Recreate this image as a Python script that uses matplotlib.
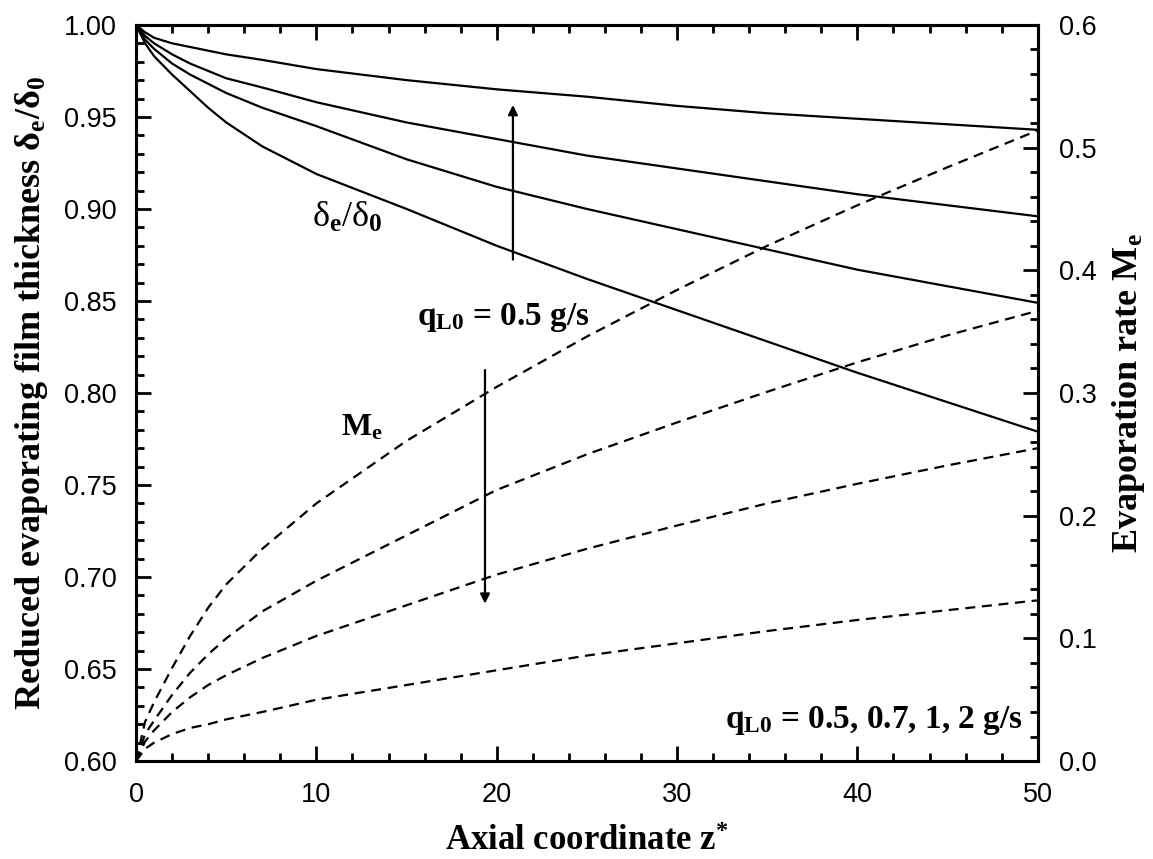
import numpy as np
import matplotlib
matplotlib.use("Agg")
import matplotlib.pyplot as plt
from matplotlib.ticker import MultipleLocator, FormatStrFormatter

plt.rcParams['mathtext.fontset'] = 'custom'
plt.rcParams['mathtext.rm'] = 'Liberation Serif:bold'
plt.rcParams['mathtext.it'] = 'Liberation Serif:bold'
plt.rcParams['mathtext.bf'] = 'Liberation Serif:bold'

# Axial coordinate z*
z = [0, 0.5, 1, 2, 3, 4, 5, 7, 10, 15, 20, 25, 30, 35, 40, 45, 50]

# Reduced film thickness delta_e/delta_0 (solid, left axis)
delta_a = [1.0, 0.996, 0.993, 0.990, 0.988, 0.986, 0.984, 0.981, 0.976, 0.970, 0.965, 0.961, 0.956, 0.952, 0.949, 0.946, 0.943]
delta_b = [1.0, 0.994, 0.990, 0.984, 0.979, 0.975, 0.971, 0.966, 0.958, 0.947, 0.938, 0.929, 0.922, 0.915, 0.908, 0.902, 0.896]
delta_c = [1.0, 0.992, 0.987, 0.979, 0.973, 0.968, 0.963, 0.955, 0.945, 0.927, 0.912, 0.900, 0.889, 0.878, 0.867, 0.858, 0.849]
delta_d = [1.0, 0.990, 0.983, 0.973, 0.964, 0.955, 0.947, 0.934, 0.919, 0.900, 0.880, 0.862, 0.845, 0.828, 0.811, 0.795, 0.779]

# Evaporation rate M_e (dashed, right axis)
me_a = [0.0, 0.032, 0.048, 0.076, 0.102, 0.125, 0.144, 0.173, 0.210, 0.261, 0.305, 0.346, 0.384, 0.420, 0.453, 0.484, 0.514]
me_b = [0.0, 0.022, 0.033, 0.054, 0.072, 0.087, 0.100, 0.122, 0.147, 0.184, 0.221, 0.250, 0.276, 0.301, 0.325, 0.347, 0.367]
me_c = [0.0, 0.016, 0.025, 0.040, 0.052, 0.062, 0.070, 0.084, 0.102, 0.127, 0.152, 0.173, 0.192, 0.210, 0.226, 0.241, 0.255]
me_d = [0.0, 0.010, 0.015, 0.022, 0.027, 0.030, 0.034, 0.040, 0.050, 0.062, 0.074, 0.086, 0.096, 0.106, 0.115, 0.123, 0.131]

fig = plt.figure(figsize=(11.53, 8.59), dpi=100)
ax = fig.add_axes([0.118, 0.114, 0.782, 0.857])
ax2 = ax.twinx()

for d in [delta_a, delta_b, delta_c, delta_d]:
    ax.plot(z, d, color='black', lw=1.6)
for m in [me_a, me_b, me_c, me_d]:
    ax2.plot(z, m, color='black', lw=1.6, linestyle=(0, (4.5, 3)))

ax.set_xlim(0, 50)
ax.set_ylim(0.6, 1.0)
ax2.set_ylim(0.0, 0.6)

ax.xaxis.set_major_locator(MultipleLocator(10))
ax.xaxis.set_minor_locator(MultipleLocator(2))
ax.yaxis.set_major_locator(MultipleLocator(0.05))
ax.yaxis.set_minor_locator(MultipleLocator(0.01))
ax2.yaxis.set_major_locator(MultipleLocator(0.1))
ax2.yaxis.set_minor_locator(MultipleLocator(0.02))
ax.yaxis.set_major_formatter(FormatStrFormatter('%.2f'))
ax2.yaxis.set_major_formatter(FormatStrFormatter('%.1f'))

ax.tick_params(axis='both', which='major', direction='in', length=11, width=2,
               labelsize=19.5)
ax.tick_params(axis='both', which='minor', direction='in', length=6, width=2)
ax.tick_params(axis='x', which='major', pad=15)
ax.tick_params(axis='y', which='major', pad=14)
ax.tick_params(axis='x', which='both', top=True)
ax.tick_params(axis='y', which='both', right=False)
ax2.tick_params(axis='y', which='major', direction='in', length=11, width=2,
                labelsize=19.5, pad=15)
ax2.tick_params(axis='y', which='minor', direction='in', length=6, width=2)
for lbl in ax.get_xticklabels() + ax.get_yticklabels() + ax2.get_yticklabels():
    lbl.set_fontfamily('Liberation Sans')

for a in (ax, ax2):
    for s in a.spines.values():
        s.set_linewidth(2.2)

label_font = dict(family='Liberation Serif', weight='bold')
ax.set_xlabel(r'Axial coordinate z$^{*}$', labelpad=12, size=25, **label_font)
ax.set_ylabel(r'Reduced evaporating film thickness $\mathrm{δ}_\mathrm{e}/\mathrm{δ}_\mathrm{0}$',
              labelpad=10, size=26, **label_font)
ax2.set_ylabel(r'Evaporation rate M$_\mathrm{e}$', labelpad=10, size=26, **label_font)

# curve annotations
ax.text(11.7, 0.895, r'δ$_\mathrm{e}$/δ$_\mathrm{0}$', family='Liberation Serif',
        size=26, ha='center', va='center')
ax.text(12.5, 0.781, r'M$_\mathrm{e}$', family='Liberation Serif', weight='bold',
        size=23, ha='center', va='center')
ax.text(15.6, 0.841, r'q$_\mathrm{L0}$ = 0.5 g/s', family='Liberation Serif',
        weight='bold', size=24, ha='left', va='center')
ax.text(49.2, 0.622, r'q$_\mathrm{L0}$ = 0.5, 0.7, 1, 2 g/s', family='Liberation Serif',
        weight='bold', size=24, ha='right', va='center')

arrow = dict(arrowstyle='-|>', color='black', lw=1.6, mutation_scale=14)
ax.annotate('', xy=(20.9, 0.958), xytext=(20.9, 0.871), arrowprops=arrow)
ax.annotate('', xy=(19.35, 0.684), xytext=(19.35, 0.814), arrowprops=arrow)

fig.savefig('out.png', dpi=100)
